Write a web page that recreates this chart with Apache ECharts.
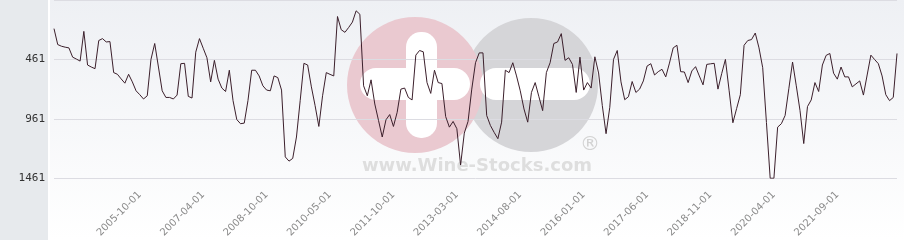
<!DOCTYPE html>
<html>
<head>
<meta charset="utf-8">
<script src="https://cdn.jsdelivr.net/npm/echarts@6/dist/echarts.min.js"></script>
<style>
html,body{margin:0;padding:0;background:#fff;}
#chart{width:904px;height:240px;}
</style>
</head>
<body>
<div id="chart"></div>
<script>
const categories = [
'2003-11-01','2003-12-01',
'2004-01-01','2004-02-01','2004-03-01','2004-04-01','2004-05-01','2004-06-01','2004-07-01','2004-08-01','2004-09-01','2004-10-01','2004-11-01','2004-12-01',
'2005-01-01','2005-02-01','2005-03-01','2005-04-01','2005-05-01','2005-06-01','2005-07-01','2005-08-01','2005-09-01','2005-10-01','2005-11-01','2005-12-01',
'2006-01-01','2006-02-01','2006-03-01','2006-04-01','2006-05-01','2006-06-01','2006-07-01','2006-09-01','2006-10-01','2006-11-01','2006-12-01',
'2007-01-01','2007-02-01','2007-03-01','2007-04-01','2007-05-01','2007-06-01','2007-07-01','2007-08-01','2007-09-01','2007-10-01','2007-11-01','2007-12-01',
'2008-01-01','2008-03-01','2008-04-01','2008-05-01','2008-06-01','2008-07-01','2008-08-01','2008-09-01','2008-10-01','2008-11-01','2008-12-01',
'2009-01-01','2009-02-01','2009-03-01','2009-04-01','2009-05-01','2009-06-01','2009-08-01','2009-09-01','2009-10-01','2009-11-01','2009-12-01',
'2010-01-01','2010-03-01','2010-04-01','2010-05-01','2010-06-01','2010-07-01','2010-08-01','2010-09-01','2010-10-01','2010-11-01','2010-12-01',
'2011-01-01','2011-02-01','2011-03-01','2011-04-01','2011-05-01','2011-06-01','2011-07-01','2011-08-01','2011-09-01','2011-10-01','2011-11-01','2011-12-01',
'2012-01-01','2012-02-01','2012-03-01','2012-04-01','2012-05-01','2012-06-01','2012-07-01','2012-08-01','2012-09-01','2012-10-01','2012-11-01','2012-12-01',
'2013-01-01','2013-02-01','2013-03-01','2013-04-01','2013-05-01','2013-06-01','2013-07-01','2013-08-01','2013-09-01','2013-10-01','2013-11-01','2013-12-01',
'2014-01-01','2014-02-01','2014-03-01','2014-04-01','2014-05-01','2014-06-01','2014-07-01','2014-08-01','2014-09-01','2014-10-01','2014-11-01','2014-12-01',
'2015-01-01','2015-02-01','2015-03-01','2015-04-01','2015-05-01','2015-06-01','2015-07-01','2015-08-01','2015-09-01','2015-10-01','2015-11-01','2015-12-01',
'2016-01-01','2016-02-01','2016-03-01','2016-04-01','2016-05-01','2016-06-01','2016-07-01','2016-08-01','2016-09-01','2016-10-01','2016-11-01','2016-12-01',
'2017-01-01','2017-02-01','2017-03-01','2017-04-01','2017-05-01','2017-06-01','2017-07-01','2017-08-01','2017-09-01','2017-10-01','2017-11-01','2017-12-01',
'2018-01-01','2018-02-01','2018-03-01','2018-04-01','2018-05-01','2018-06-01','2018-07-01','2018-08-01','2018-09-01','2018-10-01','2018-11-01','2018-12-01',
'2019-01-01','2019-02-01','2019-03-01','2019-04-01','2019-05-01','2019-06-01','2019-07-01','2019-08-01','2019-09-01','2019-10-01','2019-11-01','2019-12-01',
'2020-01-01','2020-02-01','2020-03-01','2020-04-01','2020-05-01','2020-06-01','2020-07-01','2020-08-01','2020-09-01','2020-10-01','2020-11-01','2020-12-01',
'2021-01-01','2021-02-01','2021-03-01','2021-04-01','2021-05-01','2021-06-01','2021-07-01','2021-08-01','2021-09-01','2021-10-01','2021-11-01','2021-12-01',
'2022-01-01','2022-02-01','2022-03-01','2022-04-01','2022-05-01','2022-06-01','2022-07-01','2022-08-01','2022-09-01','2022-10-01','2022-11-01','2022-12-01',
'2023-01-01'
];

const rankValues = [
202,336,350,358,364,442,458,475,225,508,
525,539,302,286,314,311,572,586,625,661,
586,650,725,758,794,767,461,327,525,725,
781,781,794,761,497,494,772,786,400,286,
367,447,650,469,627,702,731,552,808,967,
1002,997,808,552,552,600,683,719,725,600,
614,719,1281,1317,1294,1114,808,494,508,692,
850,1025,767,572,587,600,100,211,233,192,
147,52,81,683,767,633,836,975,1114,969,
925,1025,906,711,702,781,802,425,386,397,
656,747,552,656,664,942,1031,983,1044,1350,
1081,983,711,489,406,406,933,1017,1075,1128,
989,552,572,489,600,725,878,989,739,656,
775,892,572,489,327,314,244,469,447,503,
739,442,719,656,702,439,575,850,1086,864,
461,386,650,800,775,647,739,711,642,517,
497,592,564,544,608,492,364,342,564,567,
656,558,522,600,675,503,498,494,711,581,
461,725,994,875,758,342,302,294,239,364,
531,992,1461,1461,1031,1002,933,708,483,683,
892,1169,858,802,656,731,508,427,411,577,
627,525,608,608,692,667,642,761,592,425,
462,497,600,758,808,781,411
];

const yTickLabels = ['461', '961', '1461'];
const yAxisMin = -39;
const yAxisMax = 1461;
const yAxisStep = 500;
const firstLabelIndex = 23;
const labelEvery = 17;

const chart = echarts.init(document.getElementById('chart'), null, {renderer: 'canvas'});

chart.setOption({
  animation: false,
  backgroundColor: '#ffffff',
  graphic: [
    { type: 'rect', z: -20, silent: true, shape: {x: 0, y: 0, width: 48, height: 240}, style: {fill: '#e7eaed'} },
    { type: 'rect', z: -20, silent: true, shape: {x: 50, y: 0, width: 854, height: 240},
      style: {fill: new echarts.graphic.LinearGradient(0, 0, 0, 1, [{offset: 0, color: '#eef0f4'}, {offset: 1, color: '#ffffff'}])} },
    { type: 'circle', z: -10, silent: true, shape: {cx: 531, cy: 85, r: 67}, style: {fill: '#d5d5d8'} },
    { type: 'circle', z: -10, silent: true, shape: {cx: 415, cy: 85, r: 68}, style: {fill: '#eac9d0'} },
    { type: 'rect', z: -9, silent: true, shape: {x: 406, y: 32, width: 31, height: 106, r: 15}, style: {fill: '#ffffff'} },
    { type: 'rect', z: -9, silent: true, shape: {x: 360, y: 68, width: 110, height: 32, r: 16}, style: {fill: '#ffffff'} },
    { type: 'rect', z: -9, silent: true, shape: {x: 480, y: 68, width: 110, height: 32, r: 16}, style: {fill: '#ffffff'} },
    { type: 'text', z: -9, silent: true, style: {x: 477, y: 166, text: 'www.Wine-Stocks.com', fill: '#dedede',
      font: 'bold 18px "DejaVu Sans", sans-serif', align: 'center', verticalAlign: 'middle'} },
    { type: 'text', z: -9, silent: true, style: {x: 590, y: 145, text: '®', fill: '#d2d2d2',
      font: '20px "DejaVu Sans", sans-serif', align: 'center', verticalAlign: 'middle'} }
  ],
  grid: { left: 54, right: 7, top: -1.67, height: 180, containLabel: false },
  xAxis: {
    type: 'category',
    data: categories,
    boundaryGap: false,
    axisLine: {show: false},
    axisTick: {show: false},
    splitLine: {show: false},
    axisLabel: {
      rotate: 45,
      margin: 15,
      fontSize: 10,
      fontFamily: '"DejaVu Sans", sans-serif',
      color: '#8a8a8a',
      interval: function (index) { return index >= firstLabelIndex && (index - firstLabelIndex) % labelEvery === 0; }
    }
  },
  yAxis: {
    type: 'value',
    inverse: true,
    min: yAxisMin,
    max: yAxisMax,
    interval: yAxisStep,
    axisLine: {show: false},
    axisTick: {show: false},
    splitLine: {show: true, lineStyle: {color: '#dcdce2', width: 1}},
    axisLabel: {
      margin: 9,
      fontSize: 11,
      fontFamily: '"DejaVu Sans Mono", monospace',
      color: '#333333',
      formatter: function (v) { const s = String(v); return yTickLabels.indexOf(s) >= 0 ? s : ''; }
    }
  },
  series: [{
    type: 'line',
    data: rankValues,
    showSymbol: false,
    symbol: 'none',
    lineStyle: {color: '#3b1f2b', width: 1},
    z: 5
  }]
});
</script>
</body>
</html>
